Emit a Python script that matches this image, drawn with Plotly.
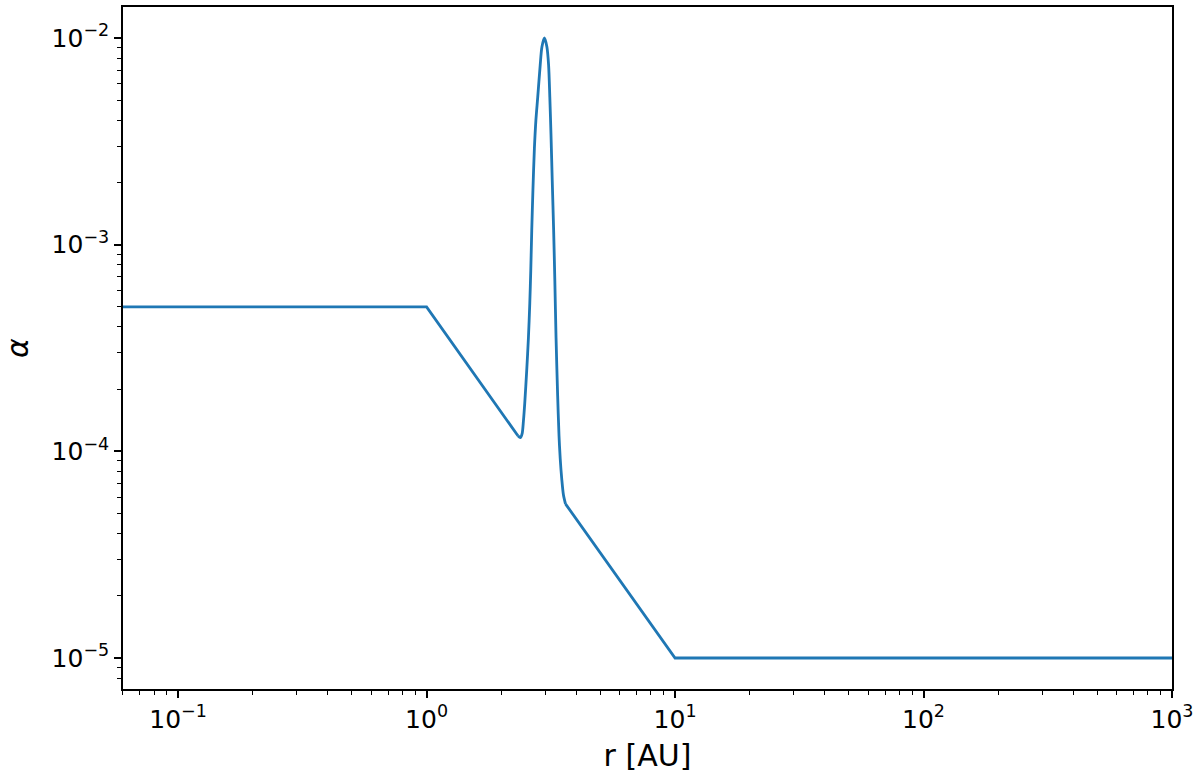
import plotly.graph_objects as go

# Values (r in AU, alpha)
r_inner = [0.06, 1.0, 2.331]
alpha_inner = [5.0e-4, 5.0e-4, 1.190e-4]

r_bump = [2.331, 2.386, 2.424, 2.454, 2.483, 2.529, 2.570, 2.602, 2.626, 2.650, 2.679,
          2.716, 2.754, 2.801, 2.866, 2.912, 2.980,
          3.050, 3.098, 3.133, 3.168, 3.204, 3.246, 3.282, 3.319, 3.369,
          3.412, 3.450, 3.499, 3.554, 3.622]
alpha_bump = [1.190e-4, 1.164e-4, 1.217e-4, 1.407e-4, 1.701e-4, 2.459e-4, 3.553e-4, 5.194e-4, 7.505e-4, 1.173e-3, 1.833e-3,
              2.929e-3, 4.004e-3, 5.176e-3, 7.396e-3, 9.046e-3, 1.0e-2,
              9.05e-3, 7.396e-3, 5.176e-3, 3.386e-3, 2.049e-3, 1.173e-3, 6.71e-4, 3.553e-4, 1.860e-4,
              1.190e-4, 9.21e-5, 7.36e-5, 6.16e-5, 5.57e-5]

r_outer = [3.622, 10.0, 1000.0]
alpha_outer = [5.57e-5, 1.0e-5, 1.0e-5]

x_tickvals = [0.1, 1, 10, 100, 1000]
x_ticktext = ["10<sup>−1</sup>", "10<sup>0</sup>", "10<sup>1</sup>", "10<sup>2</sup>", "10<sup>3</sup>"]
y_tickvals = [1e-5, 1e-4, 1e-3, 1e-2]
y_ticktext = ["10<sup>−5</sup>", "10<sup>−4</sup>", "10<sup>−3</sup>", "10<sup>−2</sup>"]

x_minor = [m * 10.0 ** e for e in range(-2, 3) for m in range(2, 10)]
y_minor = [m * 10.0 ** e for e in range(-6, -1) for m in range(2, 10)]

line_style = dict(color="#1f77b4", width=2.8)
fig = go.Figure()
fig.add_trace(go.Scatter(x=r_inner, y=alpha_inner, mode="lines",
                         line=line_style, showlegend=False))
fig.add_trace(go.Scatter(x=r_bump, y=alpha_bump, mode="lines",
                         line=dict(line_style, shape="spline", smoothing=0.8), showlegend=False))
fig.add_trace(go.Scatter(x=r_outer, y=alpha_outer, mode="lines",
                         line=line_style, showlegend=False))

tick_font = dict(family="DejaVu Sans", size=25, color="#000000")
title_font = dict(family="DejaVu Sans", size=30, color="#000000")
axis_common = dict(
    showline=True, linecolor="#000000", linewidth=1.6, mirror=True,
    ticks="outside", ticklen=7, tickwidth=1.6, tickcolor="#000000",
    showgrid=False, zeroline=False, tickfont=tick_font, automargin=False,
)

fig.update_xaxes(type="log", range=[-1.2218, 3.0], tickmode="array",
                 tickvals=x_tickvals, ticktext=x_ticktext,
                 title=dict(text="r [AU]", font=title_font, standoff=12),
                 minor=dict(tickmode="array", tickvals=x_minor, ticks="outside",
                            ticklen=4, tickwidth=1.2, tickcolor="#000000", showgrid=False),
                 **axis_common)
fig.update_yaxes(type="log", range=[-5.15, -1.85], tickmode="array",
                 tickvals=y_tickvals, ticktext=y_ticktext,
                 title=dict(text="<i>α</i>", font=title_font, standoff=28),
                 minor=dict(tickmode="array", tickvals=y_minor, ticks="outside",
                            ticklen=4, tickwidth=1.2, tickcolor="#000000", showgrid=False),
                 **axis_common)

fig.update_layout(
    width=1200, height=778,
    margin=dict(l=123, r=28, t=7, b=89),
    paper_bgcolor="#ffffff", plot_bgcolor="#ffffff",
    font=tick_font,
)

fig.write_html("out.html", config={"displayModeBar": False},
               post_script="document.body.style.margin='0';document.body.style.overflow='hidden';")
